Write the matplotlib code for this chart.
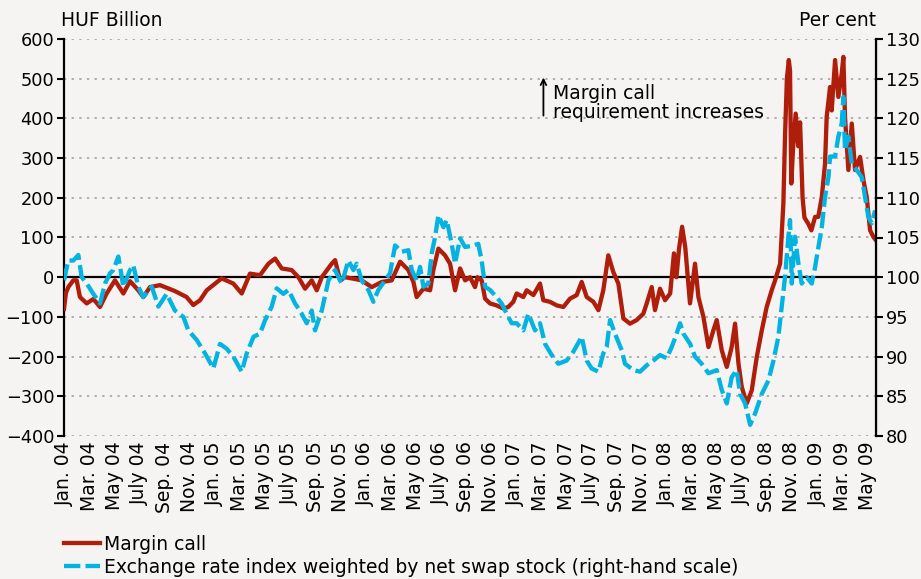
import numpy as np
import matplotlib.pyplot as plt

# months since 1 Jan 2004
red_t = [0.0, 0.15, 0.34, 0.74, 1.01, 1.27, 1.81, 2.34, 2.87, 3.4, 4.06, 4.73, 5.26, 5.92,
         6.32, 6.85, 7.65, 8.84, 9.77, 10.3, 10.84, 11.37, 12.56, 13.49, 14.16, 14.82,
         15.62, 16.29, 16.82, 17.35, 18.14, 18.68, 19.21, 19.74, 20.14, 20.54, 21.33,
         21.6, 22.0, 22.4, 22.93, 23.72, 24.52, 25.32, 26.11, 26.78, 27.44, 27.84, 28.1,
         28.64, 29.17, 29.43, 29.83, 30.36, 30.76, 31.16, 31.56, 31.96, 32.35, 32.75,
         32.95, 33.28, 33.55, 33.94, 34.47, 35.01, 35.4, 35.8, 36.07, 36.6, 36.87, 37.4,
         37.93, 38.19, 38.72, 39.26, 39.79, 40.32, 40.85, 41.25, 41.65, 42.18, 42.58,
         42.97, 43.37, 43.77, 44.17, 44.57, 45.1, 45.63, 46.16, 46.43, 46.83, 47.09,
         47.49, 47.89, 48.3, 48.6, 48.8, 49.0, 49.25, 49.5, 49.88, 50.28, 50.55, 50.95,
         51.35, 51.74, 52.01, 52.41, 52.81, 53.2, 53.47, 53.74, 54.0, 54.4, 54.8, 55.2,
         55.6, 55.99, 56.39, 56.66, 57.06, 57.32, 57.45, 57.6, 57.75, 57.85, 57.95, 58.1,
         58.3, 58.5, 58.65, 58.85, 59.0, 59.3, 59.55, 59.85, 60.1, 60.38, 60.64, 60.77,
         61.04, 61.17, 61.44, 61.7, 61.97, 62.1, 62.23, 62.5, 62.77, 63.03, 63.43, 63.7,
         63.96, 64.23, 64.5, 64.65]
red_v = [-80, -40, -25, -8, -8, -50, -66, -55, -75, -41, -8, -41, -10, -33,
         -50, -25, -20, -35, -50, -70, -58, -33, -3, -16, -41, 9,
         5, 34, 47, 22, 18, 0, -29, -8, -33, 0, 34,
         43, -8, 0, -3, -8, -25, -12, -8, 39, 18, -12, -50,
         -29, -33, 18, 72, 55, 34, -33, 22, -8, 0, -25,
         0, -8, -54, -66, -71, -79, -75, -62, -41, -50, -33, -45,
         -16, -58, -62, -71, -75, -54, -45, -12, -50, -62, -83,
         -33, 55, 13, -16, -104, -117, -108, -92, -66, -25, -83,
         -29, -58, -41, 60, 0, 70, 127, 76, -66, 34, -50, -100,
         -176, -134, -108, -184, -226, -176, -117, -217, -276, -318, -285, -201,
         -134, -75, -33, -8, 34, 186, 354, 500, 547, 520, 236, 330,
         412, 330, 390, 200, 150, 135, 118, 152, 152, 202, 286, 404,
         479, 420, 547, 454, 513, 555, 404, 270, 387, 270, 303, 244,
         202, 118, 101, 95]

cyan_t = [0.0, 0.34, 0.74, 1.14, 1.41, 1.81, 2.34, 2.87, 3.27, 3.67, 3.93, 4.33, 4.73,
          5.26, 5.52, 5.92, 6.32, 6.99, 7.52, 8.18, 8.84, 9.51, 9.91, 10.57, 11.24,
          11.9, 12.43, 12.96, 13.49, 14.16, 14.56, 15.1, 15.62, 16.0, 16.55, 16.95,
          17.48, 17.88, 18.41, 18.94, 19.34, 19.74, 20.0, 20.54, 21.07, 21.6, 22.13,
          22.66, 23.06, 23.32, 23.72, 24.25, 24.65, 25.05, 25.58, 25.98, 26.38, 26.91,
          27.44, 27.71, 28.1, 28.37, 28.64, 29.03, 29.3, 29.57, 29.83, 30.23, 30.5,
          30.89, 31.16, 31.56, 31.96, 32.62, 33.01, 33.28, 33.55, 33.94, 34.47, 34.87,
          35.27, 35.67, 36.07, 36.6, 37.0, 37.53, 37.93, 38.33, 38.86, 39.39, 40.05,
          40.58, 41.25, 41.65, 42.04, 42.58, 42.97, 43.24, 43.51, 43.9, 44.44, 44.7,
          45.36, 45.9, 46.43, 46.96, 47.49, 48.02, 48.42, 48.68, 49.09, 49.35, 49.89,
          50.28, 50.81, 51.35, 52.01, 52.41, 52.81, 53.2, 53.6, 53.87, 54.27, 54.67,
          55.06, 55.6, 56.13, 56.53, 56.92, 57.19, 57.45, 57.72, 57.85, 57.99, 58.25,
          58.52, 58.78, 59.18, 59.58, 59.85, 60.11, 60.38, 60.64, 60.91, 61.04, 61.44,
          61.7, 61.97, 62.1, 62.23, 62.5, 62.77, 63.16, 63.56, 63.83, 64.09, 64.36, 64.63]
cyan_v = [99.6, 102.1, 102.1, 102.8, 100.0, 99.2, 97.9, 96.7, 99.2, 100.5, 100.9, 102.6, 98.8,
          100.9, 101.5, 98.8, 97.5, 98.8, 96.3, 97.9, 95.8, 95.0, 93.3, 92.1, 90.4,
          88.5, 91.6, 91.0, 90.0, 88.1, 90.4, 92.5, 92.9, 94.5, 96.3, 98.6,
          97.9, 98.4, 96.7, 95.4, 94.2, 95.8, 93.3, 95.8, 99.6, 100.9, 99.2,
          102.1, 100.9, 101.7, 99.6, 98.4, 96.9, 98.4, 99.6, 100.5, 104.0, 103.2,
          103.4, 100.9, 99.6, 101.3, 98.8, 99.2, 103.0, 105.1, 107.8, 106.3, 107.2,
          104.2, 101.7, 104.9, 103.8, 104.0, 104.2, 102.1, 98.8, 98.4, 97.5, 96.7,
          95.4, 94.2, 94.2, 93.3, 95.4, 93.3, 94.2, 91.6, 90.2, 89.1, 89.5,
          90.6, 92.5, 89.5, 88.5, 88.1, 90.4, 91.2, 94.6, 92.9, 90.8, 89.1,
          88.3, 88.1, 88.9, 89.5, 90.2, 89.8, 91.2, 92.3, 94.2, 92.9, 91.6,
          90.0, 89.1, 87.9, 88.3, 85.8, 84.1, 87.4, 88.3, 85.3, 84.1, 81.4,
          82.8, 85.3, 87.0, 89.5, 92.5, 96.3, 100.0, 105.1, 107.2, 99.2, 105.1,
          101.7, 99.2, 100.0, 99.2, 101.3, 103.8, 106.3, 110.1, 112.6, 115.2, 115.2,
          117.7, 119.4, 122.7, 116.0, 117.7, 114.3, 113.5, 112.6, 110.1, 107.6, 106.8, 108.4]

tick_labels = ["Jan. 04", "Mar. 04", "May 04", "July 04", "Sep. 04", "Nov. 04",
               "Jan. 05", "Mar. 05", "May 05", "July 05", "Sep. 05", "Nov. 05",
               "Jan. 06", "Mar. 06", "May 06", "July 06", "Sep. 06", "Nov. 06",
               "Jan. 07", "Mar. 07", "May 07", "July 07", "Sep. 07", "Nov. 07",
               "Jan. 08", "Mar. 08", "May 08", "July 08", "Sep. 08", "Nov. 08",
               "Jan. 09", "Mar. 09", "May 09"]

RED = "#AF1E0B"
CYAN = "#00B3E0"
BG = "#F5F4F2"
FS = 13.5   # text
FSN = 12.8  # y tick numbers

plt.rcParams['font.family'] = ['DejaVu Sans']
fig = plt.figure(figsize=(9.21, 5.79), dpi=100, facecolor=BG)
ax = fig.add_axes([64/921, 1-436/579, (876-64)/921, (436-39)/579])
ax.set_facecolor(BG)
ax2 = ax.twinx()

ax.set_xlim(0, 64.7)
ax.set_ylim(-400, 600)
ax2.set_ylim(80, 130)

for v in range(-400, 601, 100):
    if v != 0:
        ax.axhline(v, color="#9a9a9a", lw=1.1, ls=(0, (1.5, 3.5)), zorder=0)
ax.axhline(0, color="black", lw=1.6, zorder=1)

l1, = ax.plot(red_t, red_v, color=RED, lw=3.1, solid_joinstyle='round', zorder=3)
l2, = ax2.plot(cyan_t, cyan_v, color=CYAN, lw=3.1, dashes=(3.8, 1.2), zorder=2)

ax.set_yticks(range(-400, 601, 100))
ax.set_yticklabels([str(v).replace('-', '\u2212') for v in range(-400, 601, 100)])
ax2.set_yticks(range(80, 131, 5))
ax.set_xticks(range(0, 65, 2))
ax.set_xticklabels(tick_labels, rotation=90)

ax.tick_params(axis='y', direction='out', length=5, width=1.5, labelsize=FSN, pad=2)
ax2.tick_params(axis='y', direction='out', length=5, width=1.5, labelsize=FSN, pad=2)
ax.tick_params(axis='x', length=0, labelsize=FS, pad=4)
for a in (ax, ax2):
    a.spines['top'].set_visible(False)
    a.spines['bottom'].set_visible(False)
ax.spines['left'].set_linewidth(1.6)
ax2.spines['right'].set_linewidth(1.6)
ax2.spines['left'].set_visible(False)

fig.text(61/921, 1-30/579, "HUF Billion", fontsize=FS, ha='left', va='bottom')
fig.text(876/921, 1-30/579, "Per cent", fontsize=FS, ha='right', va='bottom')

ax.annotate("", xy=(38.2, 510), xytext=(38.2, 400),
            arrowprops=dict(arrowstyle='->', color='black', lw=1.3))
ax.text(39.0, 440, "Margin call\nrequirement increases", fontsize=FS,
        ha='left', va='center', linespacing=1.0)

fig.legend([l1, l2], ["Margin call",
                      "Exchange rate index weighted by net swap stock (right-hand scale)"],
           loc='upper left', bbox_to_anchor=(64/921, 1-535/579), frameon=False,
           fontsize=FS, handlelength=1.9, handletextpad=0.25, labelspacing=0.2,
           borderpad=0, borderaxespad=0)

fig.savefig("out.png", dpi=100, facecolor=BG)
